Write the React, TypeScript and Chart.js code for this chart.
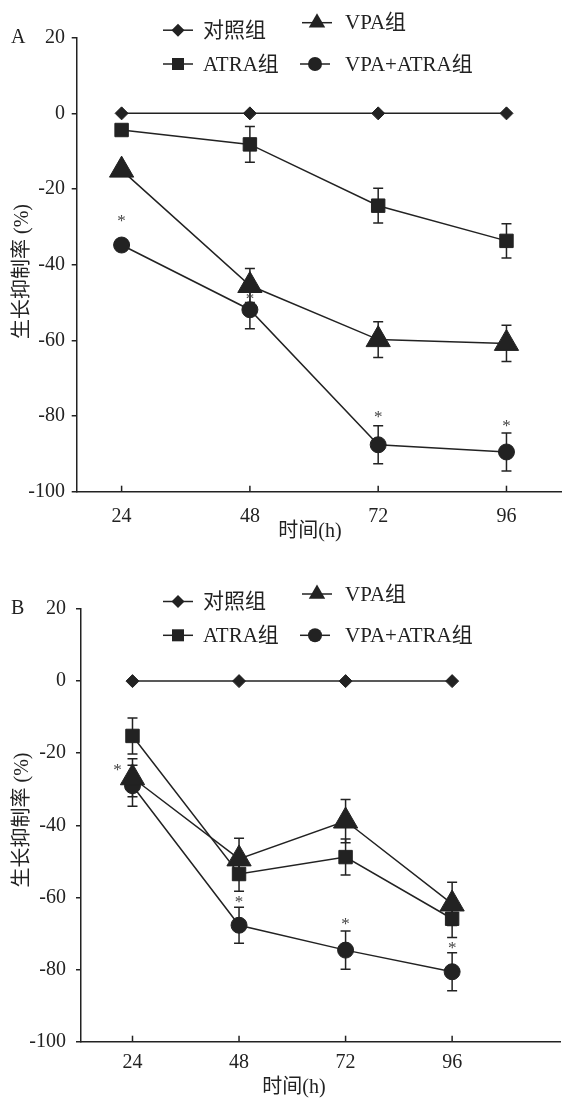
import React, { useEffect, useRef } from 'react';
import { Chart, registerables } from 'chart.js';

Chart.register(...registerables);

// ---------- data ----------
const hours = [24, 48, 72, 96];
const yTickValues = [20, 0, -20, -40, -60, -80, -100];
const xTitle = '时间(h)';
const yTitle = '生长抑制率 (%)';
const seriesLabels = ['对照组', 'VPA组', 'ATRA组', 'VPA+ATRA组'];

// Panel A
const controlA = [0, 0, 0, 0];
const vpaA = [-15, -45.5, -59.8, -60.8];
const vpaErrA = [null, 4.5, 4.7, 4.8];
const atraA = [-4.4, -8.2, -24.4, -33.7];
const atraErrA = [null, 4.7, 4.6, 4.5];
const comboA = [-34.8, -51.9, -87.6, -89.5];
const comboErrA = [null, 5, 5, 5];
const starsA = [-27.7, -48.5, -79.5, -82];

// Panel B
const controlB = [0, 0, 0, 0];
const vpaB = [-26.8, -49.3, -38.8, -61.8];
const vpaErrB = [5.3, 5.7, 6, 6];
const atraB = [-15.2, -53.5, -48.8, -65.9];
const atraErrB = [5, 4.8, 5, 5.2];
const comboB = [-29, -67.7, -74.6, -80.6];
const comboErrB = [5.7, 5, 5.3, 5.3];
const starsB = [-24, -60.6, -66.6, -73.3];

// ---------- styles ----------
const ink = '#222222';
const fontFamily = '"Liberation Serif", "Noto Sans CJK SC", serif';
const seriesStyles = [
  { pointStyle: 'rectRot', radius: 6.5, legendRadius: 6.5 },
  { pointStyle: 'triangle', radius: 14, legendRadius: 9.5 },
  { pointStyle: 'rect', radius: 9.5, legendRadius: 8.5 },
  { pointStyle: 'circle', radius: 8, legendRadius: 7 },
];
const legendSlots = [
  { x: 178, dy: -7.5, tx: 203 },
  { x: 317, dy: -15, tx: 345 },
  { x: 178, dy: 26.3, tx: 203 },
  { x: 315, dy: 26.3, tx: 345 },
];

const panels = [
  {
    key: 'A', top: 0, height: 548, plotTop: 37.7, yAxisWidth: 76.7, rightPad: 3,
    xAxisHeight: 56.3, xMin: 15.6, xMax: 106.2, yTickPad: 6.7, xTickPad: 13,
    xTitleX: 310, xTitleDy: 40.3, yTitleX: 23, yTitleY: 271.5, starDx: [0, 0, 0, 0],
    values: [controlA, vpaA, atraA, comboA],
    errors: [null, vpaErrA, atraErrA, comboErrA],
    stars: starsA,
  },
  {
    key: 'B', top: 548, height: 550, plotTop: 61, yAxisWidth: 81, rightPad: 4,
    xAxisHeight: 56.3, xMin: 12.4, xMax: 120.3, yTickPad: 10, xTickPad: 9,
    xTitleX: 294, xTitleDy: 46.3, yTitleX: 23, yTitleY: 820 - 548, starDx: [-15, 0, 0, 0],
    values: [controlB, vpaB, atraB, comboB],
    errors: [null, vpaErrB, atraErrB, comboErrB],
    stars: starsB,
  },
];

function drawMarker(ctx: CanvasRenderingContext2D, style: string, x: number, y: number, r: number) {
  ctx.beginPath();
  if (style === 'rectRot') {
    ctx.moveTo(x - r, y); ctx.lineTo(x, y - r); ctx.lineTo(x + r, y); ctx.lineTo(x, y + r); ctx.closePath();
  } else if (style === 'rect') {
    const h = r * Math.SQRT1_2;
    ctx.rect(x - h, y - h, 2 * h, 2 * h);
  } else if (style === 'triangle') {
    ctx.moveTo(x, y - r); ctx.lineTo(x + 0.866 * r, y + 0.5 * r); ctx.lineTo(x - 0.866 * r, y + 0.5 * r); ctx.closePath();
  } else {
    ctx.arc(x, y, r, 0, Math.PI * 2);
  }
  ctx.fillStyle = ink;
  ctx.fill();
}

function makeConfig(p: any): any {
  const datasets = p.values.map((vals: number[], si: number) => ({
    label: seriesLabels[si],
    data: hours.map((h, i) => ({ x: h, y: vals[i] })),
    borderColor: ink,
    borderWidth: 1.5,
    backgroundColor: ink,
    pointStyle: seriesStyles[si].pointStyle,
    pointRadius: seriesStyles[si].radius,
    pointBackgroundColor: ink,
    pointBorderColor: ink,
    pointBorderWidth: 1,
    tension: 0,
    clip: false,
  }));

  const overlay = {
    id: 'overlay' + p.key,
    beforeDatasetsDraw(chart: any) {
      const ctx = chart.ctx;
      const xs = chart.scales.x, ys = chart.scales.y;
      const area = chart.chartArea;
      ctx.save();
      ctx.strokeStyle = ink;
      ctx.lineWidth = 1.5;
      // inward x ticks
      hours.forEach((h) => {
        const x = xs.getPixelForValue(h);
        ctx.beginPath();
        ctx.moveTo(x, area.bottom);
        ctx.lineTo(x, area.bottom - 6);
        ctx.stroke();
      });
      // error bars
      p.errors.forEach((errs: any, si: number) => {
        if (!errs) return;
        errs.forEach((e: number | null, i: number) => {
          if (e == null) return;
          const v = p.values[si][i];
          const x = xs.getPixelForValue(hours[i]);
          const y1 = ys.getPixelForValue(v + e);
          const y2 = ys.getPixelForValue(v - e);
          ctx.beginPath();
          ctx.moveTo(x, y1); ctx.lineTo(x, y2);
          ctx.moveTo(x - 5, y1); ctx.lineTo(x + 5, y1);
          ctx.moveTo(x - 5, y2); ctx.lineTo(x + 5, y2);
          ctx.stroke();
        });
      });
      ctx.restore();
    },
    afterDraw(chart: any) {
      const ctx = chart.ctx;
      const xs = chart.scales.x, ys = chart.scales.y;
      const area = chart.chartArea;
      ctx.save();
      // stars
      ctx.fillStyle = '#444';
      ctx.font = `17px ${fontFamily}`;
      ctx.textAlign = 'center';
      ctx.textBaseline = 'alphabetic';
      const m = ctx.measureText('*');
      const off = (m.actualBoundingBoxAscent - m.actualBoundingBoxDescent) / 2;
      p.stars.forEach((v: number, i: number) => {
        const x = xs.getPixelForValue(hours[i]) + p.starDx[i];
        const y = ys.getPixelForValue(v);
        ctx.fillText('*', x, y + off);
      });
      // legend
      ctx.fillStyle = ink;
      ctx.strokeStyle = ink;
      ctx.lineWidth = 1.5;
      ctx.font = `21px ${fontFamily}`;
      ctx.textAlign = 'left';
      ctx.textBaseline = 'middle';
      legendSlots.forEach((s, si) => {
        const y = area.top + s.dy;
        ctx.beginPath();
        ctx.moveTo(s.x - 15, y); ctx.lineTo(s.x + 15, y);
        ctx.stroke();
        drawMarker(ctx, seriesStyles[si].pointStyle, s.x, y, seriesStyles[si].legendRadius);
        ctx.fillStyle = ink;
        ctx.fillText(seriesLabels[si], s.tx, y + 1);
      });
      // panel letter
      ctx.font = `20px ${fontFamily}`;
      ctx.fillText(p.key, 11, area.top);
      // x title
      ctx.textAlign = 'center';
      ctx.fillText(xTitle, p.xTitleX, area.bottom + p.xTitleDy);
      // y title
      ctx.save();
      ctx.translate(p.yTitleX, p.yTitleY);
      ctx.rotate(-Math.PI / 2);
      ctx.fillText(yTitle, 0, 0);
      ctx.restore();
      ctx.restore();
    },
  };

  return {
    type: 'line',
    data: { datasets },
    plugins: [overlay],
    options: {
      responsive: false,
      animation: false,
      devicePixelRatio: 1,
      layout: { autoPadding: false, padding: { top: p.plotTop, right: p.rightPad, left: 0, bottom: 0 } },
      plugins: { legend: { display: false }, tooltip: { enabled: false } },
      scales: {
        x: {
          type: 'linear',
          position: 'bottom',
          min: p.xMin,
          max: p.xMax,
          afterBuildTicks: (s: any) => { s.ticks = hours.map((v) => ({ value: v })); },
          afterFit: (s: any) => { s.height = p.xAxisHeight; s.paddingLeft = 0; s.paddingRight = 0; },
          grid: { drawOnChartArea: false, drawTicks: false },
          border: { display: true, color: ink, width: 1.5 },
          ticks: {
            padding: p.xTickPad, color: ink, autoSkip: false, maxRotation: 0,
            font: { family: fontFamily, size: 20 },
            callback: (v: any) => String(v),
          },
        },
        y: {
          type: 'linear',
          min: -100,
          max: 20,
          afterBuildTicks: (s: any) => { s.ticks = yTickValues.map((v) => ({ value: v })); },
          afterFit: (s: any) => { s.width = p.yAxisWidth; s.paddingTop = 0; s.paddingBottom = 0; },
          grid: { drawOnChartArea: false, drawTicks: true, tickLength: 5, color: ink, lineWidth: 1.5 },
          border: { display: true, color: ink, width: 1.5 },
          ticks: {
            padding: p.yTickPad, color: ink,
            font: { family: fontFamily, size: 20 },
            callback: (v: any) => String(v),
          },
        },
      },
    },
  };
}

function Panel({ p }: { p: any }) {
  const ref = useRef<HTMLCanvasElement>(null);
  useEffect(() => {
    if (!ref.current) return;
    const chart = new Chart(ref.current, makeConfig(p));
    return () => chart.destroy();
  }, [p]);
  return (
    <canvas
      ref={ref}
      width={564}
      height={p.height}
      style={{ position: 'absolute', left: 0, top: p.top, width: 564, height: p.height, display: 'block' }}
    />
  );
}

export default function App() {
  return (
    <div style={{ position: 'absolute', left: 0, top: 0, width: 564, height: 1098, background: '#fff', overflow: 'hidden' }}>
      {panels.map((p) => (
        <Panel key={p.key} p={p} />
      ))}
    </div>
  );
}
